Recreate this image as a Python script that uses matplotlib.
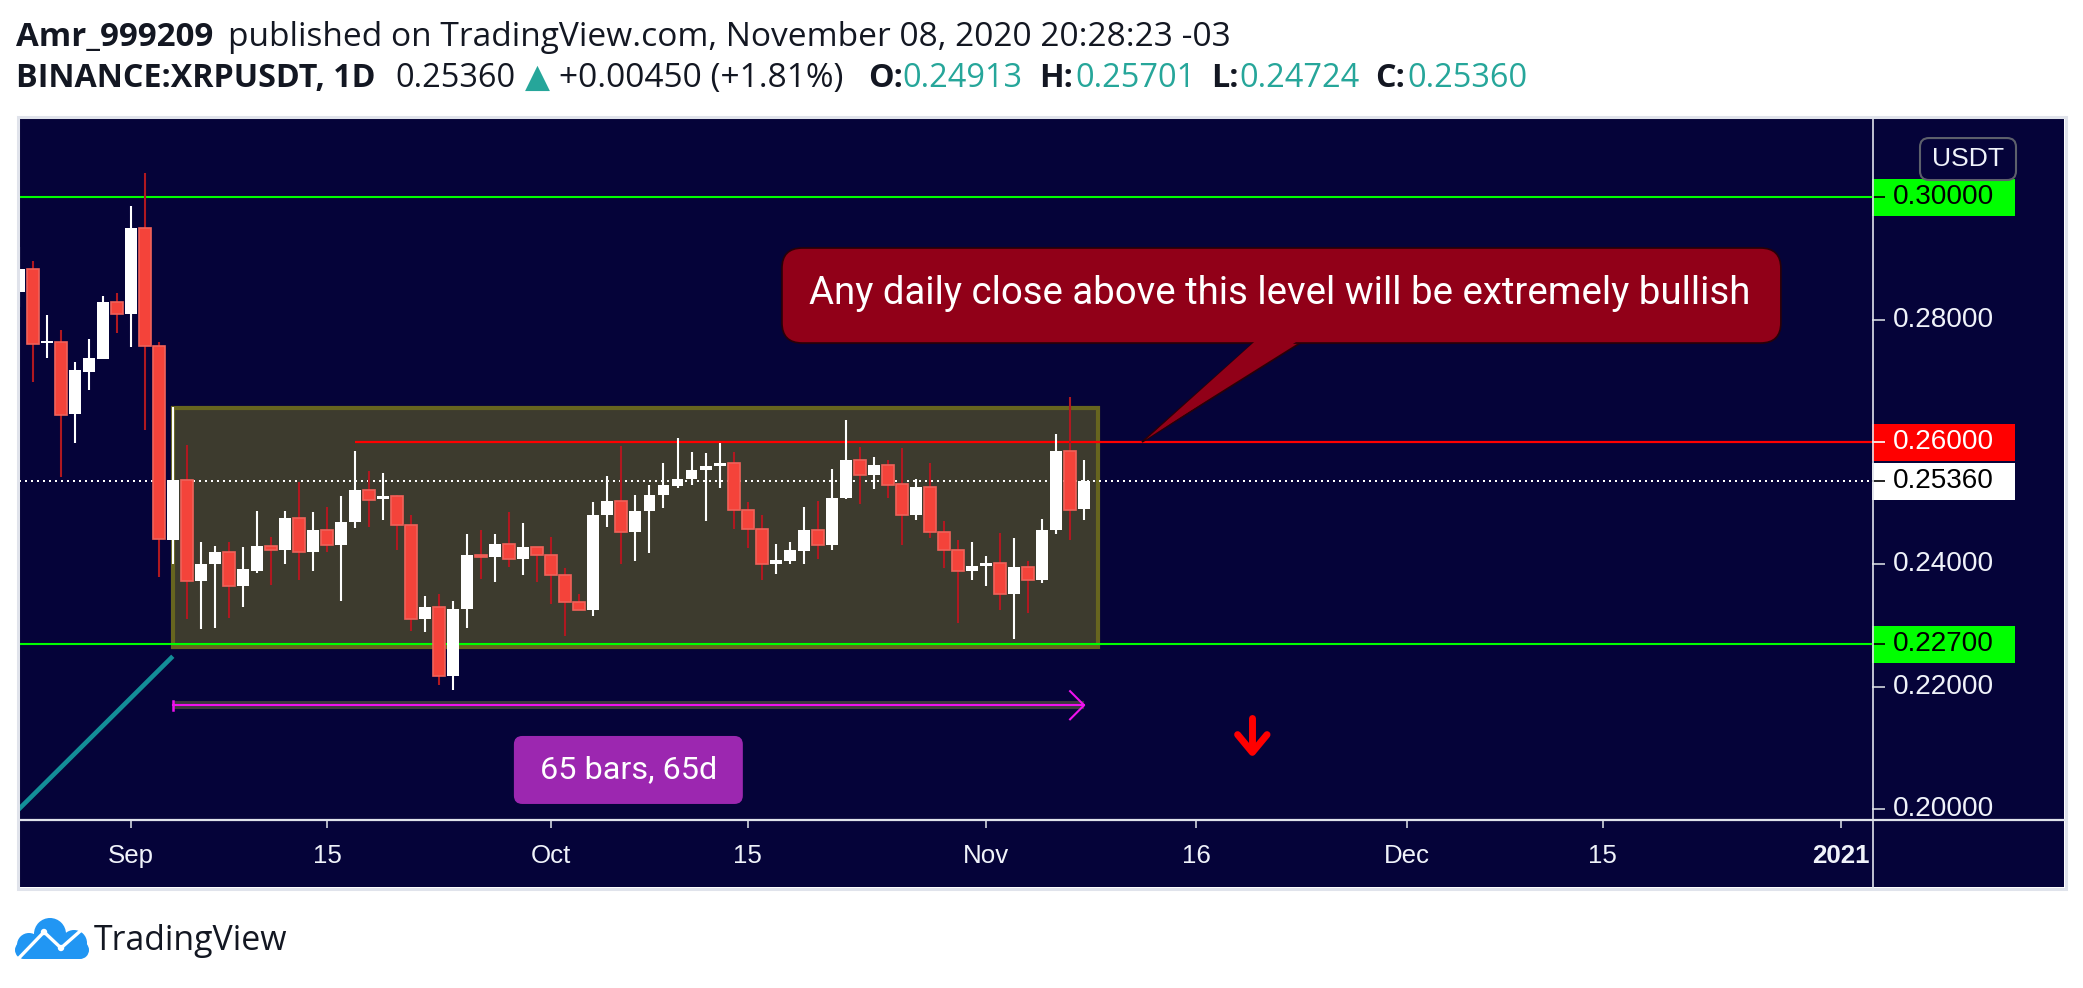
import matplotlib
matplotlib.use("Agg")
import matplotlib.pyplot as plt
import matplotlib.dates as mdates
from matplotlib.patches import Rectangle, FancyBboxPatch, Polygon, Circle
from matplotlib.lines import Line2D
import numpy as np
import pandas as pd

# daily candles BINANCE:XRPUSDT
dates = pd.date_range("2020-08-24", "2020-11-08", freq="D")
opens = [0.2845, 0.2882, 0.2762, 0.2763, 0.2646, 0.2714, 0.2736, 0.2828,
         0.2809, 0.2950, 0.2757, 0.2440, 0.2538, 0.2373, 0.2400, 0.2421, 0.2365, 0.2390,
         0.2430, 0.2424, 0.2476, 0.2421, 0.2457, 0.2432, 0.2469, 0.2522, 0.2507, 0.2512,
         0.2465, 0.2311, 0.2331, 0.2218, 0.2328, 0.2416, 0.2413, 0.2434, 0.2409, 0.2429,
         0.2416, 0.2382, 0.2338, 0.2326, 0.2480, 0.2504, 0.2453, 0.2488, 0.2514, 0.2529,
         0.2540, 0.2554, 0.2561, 0.2565, 0.2489, 0.2458, 0.2400, 0.2406, 0.2422, 0.2457,
         0.2431, 0.2509, 0.2571, 0.2546, 0.2563, 0.2532, 0.2480, 0.2527, 0.2453, 0.2424, 0.2390,
         0.2398, 0.2403, 0.2352, 0.2396, 0.2375, 0.2456, 0.2585, 0.2491]
highs = [0.2918, 0.2895, 0.2807, 0.2783, 0.2730, 0.2768, 0.2838, 0.2843,
         0.2986, 0.3039, 0.2764, 0.2657, 0.2595, 0.2437, 0.2430, 0.2437, 0.2429, 0.2488,
         0.2445, 0.2488, 0.2535, 0.2485, 0.2494, 0.2512, 0.2585, 0.2553, 0.2550, 0.2513,
         0.2481, 0.2348, 0.2352, 0.2341, 0.2449, 0.2457, 0.2449, 0.2486, 0.2467, 0.2429,
         0.2445, 0.2395, 0.2351, 0.2502, 0.2545, 0.2594, 0.2514, 0.2530, 0.2566, 0.2607,
         0.2584, 0.2582, 0.2599, 0.2584, 0.2502, 0.2480, 0.2434, 0.2437, 0.2494, 0.2504,
         0.2556, 0.2636, 0.2592, 0.2576, 0.2571, 0.2590, 0.2540, 0.2566, 0.2471, 0.2440, 0.2436,
         0.2414, 0.2452, 0.2444, 0.2405, 0.2475, 0.2613, 0.2673, 0.2570]
lows = [0.2820, 0.2698, 0.2737, 0.2543, 0.2599, 0.2685, 0.2735, 0.2778,
        0.2755, 0.2620, 0.2379, 0.2400, 0.2311, 0.2294, 0.2296, 0.2312, 0.2330, 0.2386,
        0.2367, 0.2401, 0.2375, 0.2390, 0.2421, 0.2341, 0.2459, 0.2461, 0.2472, 0.2423,
        0.2291, 0.2290, 0.2203, 0.2195, 0.2296, 0.2376, 0.2372, 0.2396, 0.2382, 0.2372,
        0.2336, 0.2283, 0.2325, 0.2315, 0.2462, 0.2401, 0.2406, 0.2419, 0.2493, 0.2525,
        0.2530, 0.2471, 0.2525, 0.2458, 0.2427, 0.2374, 0.2385, 0.2400, 0.2400, 0.2409,
        0.2424, 0.2507, 0.2499, 0.2524, 0.2509, 0.2432, 0.2473, 0.2444, 0.2395, 0.2305, 0.2374,
        0.2364, 0.2326, 0.2278, 0.2321, 0.2370, 0.2450, 0.2440, 0.2472]
closes = [0.2882, 0.2760, 0.2764, 0.2645, 0.2717, 0.2737, 0.2828, 0.2809,
          0.2950, 0.2757, 0.2441, 0.2538, 0.2373, 0.2400, 0.2421, 0.2365, 0.2392, 0.2430,
          0.2424, 0.2476, 0.2421, 0.2457, 0.2432, 0.2470, 0.2522, 0.2506, 0.2512, 0.2464,
          0.2311, 0.2331, 0.2218, 0.2328, 0.2416, 0.2413, 0.2434, 0.2409, 0.2429, 0.2416,
          0.2382, 0.2338, 0.2326, 0.2480, 0.2504, 0.2453, 0.2488, 0.2514, 0.2530, 0.2540,
          0.2554, 0.2561, 0.2565, 0.2489, 0.2458, 0.2400, 0.2407, 0.2423, 0.2457, 0.2431,
          0.2509, 0.2571, 0.2546, 0.2563, 0.2530, 0.2480, 0.2527, 0.2453, 0.2423, 0.2390, 0.2398,
          0.2403, 0.2352, 0.2396, 0.2375, 0.2457, 0.2585, 0.2489, 0.2536]

# levels and drawings
top_level = 0.30
resistance = 0.26
support = 0.227
last_close = 0.2536
range_dates = ["2020-09-04", "2020-11-09"]
range_prices = [0.2265, 0.2656]
measure_dates = ["2020-09-04", "2020-11-08"]
measure_price = 0.2170
trend_dates = ["2020-08-23", "2020-09-04"]
trend_prices = [0.1977, 0.2250]

price_ticks = [0.20, 0.22, 0.24, 0.28]
time_ticks = ["2020-09-01", "2020-09-15", "2020-10-01", "2020-10-15", "2020-11-01",
              "2020-11-16", "2020-12-01", "2020-12-15", "2021-01-01"]
time_labels = ["Sep", "15", "Oct", "15", "Nov", "16", "Dec", "15", "2021"]

W, H = 2083, 988
NAVY = "#050339"
LIGHT = "#e0e3eb"
PX_PRICE = 6121.0   # pixels per 1.0 price
PX_DAY = 14.02      # pixels per day
YLIM = (0.19825, 0.31278)

fig = plt.figure(figsize=(W / 100, H / 100), dpi=100, facecolor="white")
rend = fig.canvas.get_renderer()


def fx(px):
    return px / W


def fy(py):
    return 1 - py / H


def fitted(s, width, **kw):
    t = fig.text(0, 0, s, fontsize=20, **kw)
    w = t.get_window_extent(rend).width
    t.remove()
    return 20 * width / w


def bare(a):
    a.set_xticks([])
    a.set_yticks([])
    for s in a.spines.values():
        s.set_visible(False)


# navy fill behind everything inside the frame
fig.add_artist(Rectangle((fx(19), fy(887)), fx(2064 - 19), (887 - 119) / H,
                         transform=fig.transFigure, fc=NAVY, ec="none", zorder=-5))

# ---------------- main chart ----------------
ax = fig.add_axes([fx(19), fy(820), fx(1872 - 19), (820 - 119) / H])
ax.set_facecolor(NAVY)
bare(ax)
d0 = mdates.date2num(pd.Timestamp("2020-09-01"))
ax.set_xlim(d0 - 7.97, d0 + 124.2)
ax.set_ylim(*YLIM)
asp = PX_DAY / PX_PRICE

x = mdates.date2num(dates)
o = np.array(opens)
c = np.array(closes)
hi = np.array(highs)
lo = np.array(lows)
up = c >= o
body_lo = np.minimum(o, c)
body_h = np.maximum(np.abs(c - o), 0.0003)

# range box
rx = mdates.date2num(pd.to_datetime(range_dates))
ax.add_patch(Rectangle((rx[0], range_prices[0]), rx[1] - rx[0], range_prices[1] - range_prices[0],
                       fc="#3d3b2e", ec="#67651f", lw=3, zorder=1))

# trend line bottom-left
ax.plot(mdates.date2num(pd.to_datetime(trend_dates)), trend_prices, color="#138e98",
        lw=3.3, solid_capstyle="butt", zorder=1.5)

# horizontal levels
ax.axhline(top_level, color="#00ff00", lw=1.5, zorder=2)
ax.axhline(support, color="#00ff00", lw=1.5, zorder=2)
ax.hlines(resistance, mdates.date2num(pd.Timestamp("2020-09-17")), ax.get_xlim()[1],
          color="#ff0000", lw=1.6, zorder=2)
ax.axhline(last_close, color="white", lw=1.44, ls=(0, (1, 2)), zorder=2)

# candles
ax.vlines(x[up], lo[up], hi[up], color="white", lw=1.5, zorder=3)
ax.vlines(x[~up], lo[~up], hi[~up], color="#b01820", lw=1.5, zorder=3)
ax.bar(x[up], body_h[up], bottom=body_lo[up], width=0.85, color="white", lw=0, zorder=4)
ax.bar(x[~up], body_h[~up], bottom=body_lo[~up], width=0.85, color="#f4433a",
       edgecolor="#f0625a", lw=1.2, zorder=4)

# date range measure arrow
mx = mdates.date2num(pd.to_datetime(measure_dates))
ax.plot(mx, [measure_price] * 2, color="#3a3a3e", lw=5.8, solid_capstyle="butt", zorder=4.5)
ax.plot(mx, [measure_price] * 2, color="#ee11ee", lw=1.5, zorder=5)
ax.plot([mx[0]] * 2, [measure_price - 0.0007, measure_price + 0.0007], color="#ee11ee", lw=1.8, zorder=5)
ax.plot([mx[1] - 1, mx[1], mx[1] - 1],
        [measure_price + 0.0023, measure_price, measure_price - 0.0023],
        color="#ee11ee", lw=1.5, zorder=5)
mid = (mx[0] + mx[1]) / 2
ax.add_patch(FancyBboxPatch((mid - 8.17, 0.20087), 16.33, 0.01111,
                            boxstyle="round,pad=0,rounding_size=0.6", mutation_aspect=asp,
                            fc="#9c27b0", ec="none", zorder=6))
ax.text(mid, 0.20647, "65 bars, 65d", color="white", ha="center", va="center",
        family="Roboto", fontsize=fitted("65 bars, 65d", 177, family="Roboto"), zorder=7)

# callout
cfill = "#910018"
ax.add_patch(Polygon([(d0 + 80.3, 0.2766), (d0 + 83.7, 0.2766), (d0 + 72.13, resistance)],
                     closed=True, fc=cfill, ec="#2a0006", lw=1.2, zorder=5))
ax.add_patch(FancyBboxPatch((d0 + 46.45, 0.27618), 71.25, 0.01552,
                            boxstyle="round,pad=0,rounding_size=1.45", mutation_aspect=asp,
                            fc=cfill, ec="#2a0006", lw=1.2, zorder=6))
ax.add_patch(Polygon([(d0 + 80.45, 0.2770), (d0 + 83.55, 0.2770), (d0 + 72.4, resistance + 0.0004)],
                     closed=True, fc=cfill, ec="none", zorder=7))
msg = "Any daily close above this level will be extremely bullish"
ax.text(d0 + 81.98, 0.28425, msg, color="white", ha="center", va="center", family="Roboto",
        fontsize=fitted(msg, 939, family="Roboto"), zorder=8)

# red down arrow
ax.plot([d0 + 80, d0 + 80], [0.2149, 0.2096], color="#ff0000", lw=5, solid_capstyle="round", zorder=6)
ax.plot([d0 + 78.95, d0 + 80, d0 + 81.05], [0.2122, 0.2093, 0.2122], color="#ff0000", lw=5,
        solid_capstyle="round", solid_joinstyle="round", zorder=6)

# ---------------- price axis ----------------
pax = fig.add_axes([fx(1872), fy(820), fx(2064 - 1872), (820 - 119) / H])
pax.set_facecolor(NAVY)
bare(pax)
pax.set_xlim(0, 192)
pax.set_ylim(*YLIM)
lab_size = fitted("0.28000", 101, family="Liberation Sans")
pax.hlines(price_ticks, 0, 13, color="#d1d4dc", lw=1.2)
for p in price_ticks:
    pax.text(21, p, f"{p:.5f}", color="#f0f3fa", va="center", ha="left",
             family="Liberation Sans", fontsize=lab_size)

tag_h = 37 / PX_PRICE
for p, face, tc in [(top_level, "#00ff00", "black"), (resistance, "#ff0000", "white"),
                    (last_close, "white", "black"), (support, "#00ff00", "black")]:
    pax.add_patch(Rectangle((0, p - tag_h / 2), 143, tag_h, fc=face, ec="none", zorder=3))
    pax.text(21, p, f"{p:.5f}", color=tc, va="center", ha="left", family="Liberation Sans",
             fontsize=lab_size, zorder=4)
pax.hlines([top_level, support], 0, 13, color="black", lw=1.2, zorder=3.5)
pax.hlines([resistance], 0, 13, color="white", lw=1.2, zorder=3.5)
pax.hlines([last_close], 0, 13, color="black", lw=1.2, zorder=3.5)

pax.add_patch(FancyBboxPatch((48, 0.30281), 96, 0.00686, boxstyle="round,pad=0,rounding_size=9",
                             mutation_aspect=1 / PX_PRICE, fc=NAVY, ec="#5d606b", lw=1.5, zorder=3))
pax.text(96, 0.30624, "USDT", color="#f0f3fa", ha="center", va="center",
         family="Liberation Sans", fontsize=fitted("USDT", 72, family="Liberation Sans"))

# ---------------- time axis ----------------
tax = fig.add_axes([fx(19), fy(887), fx(1872 - 19), 67 / H])
tax.set_facecolor(NAVY)
for s in tax.spines.values():
    s.set_visible(False)
tax.set_xlim(ax.get_xlim())
tax.set_ylim(0, 1)
tticks = mdates.date2num(pd.to_datetime(time_ticks))
tax.set_xticks(tticks)
tax.set_yticks([])
tax.tick_params(axis="x", direction="in", length=5.5, width=1.2, color="#d1d4dc",
                top=True, bottom=False, labelbottom=False, labeltop=False)
tsize = fitted("Sep", 46, family="Liberation Sans")
for t, lab in zip(tticks, time_labels):
    tax.text(t, 0.358, lab, color="#f0f3fa", ha="center", va="baseline", family="Liberation Sans",
             fontsize=tsize, fontweight="bold" if lab == "2021" else "normal")

# separators and outer frame
fig.add_artist(Line2D([fx(19), fx(2064)], [fy(820), fy(820)], color=LIGHT, lw=1.6, zorder=10))
fig.add_artist(Line2D([fx(1872.5), fx(1872.5)], [fy(119), fy(887)], color=LIGHT, lw=1.2, zorder=10))
fig.add_artist(Rectangle((fx(17.5), fy(888.5)), fx(2065.5 - 17.5), (888.5 - 117.5) / H,
                         transform=fig.transFigure, fill=False, ec=LIGHT, lw=2.2, zorder=10))

# ---------------- header ----------------
HF = ["Open Sans", "DejaVu Sans"]
DARK = "#131722"
TEAL = "#26a69a"
# one size for regular and one for bold text per line, fitted to the widths in the picture
reg1 = fitted("published on TradingView.com, November 08, 2020 20:28:23 -03", 1000, family=HF)
bold1 = fitted("Amr_999209", 197, family=HF, fontweight="bold")
reg2 = fitted("0.25360", 120, family=HF)
chg2 = fitted("+0.00450 (+1.81%)", 284, family=HF)
bold2 = fitted("BINANCE:XRPUSDT, 1D", 360, family=HF, fontweight="bold")
line1 = [(16, "Amr_999209", DARK, "bold"),
         (227.7, "published on TradingView.com, November 08, 2020 20:28:23 -03", DARK, "normal")]
line2 = [(16, "BINANCE:XRPUSDT, 1D", DARK, "bold"), (395, "0.25360", DARK, "normal"),
         (525, "\u25b2", TEAL, "normal"), (559, "+0.00450 (+1.81%)", DARK, "change"),
         (868, "O:", DARK, "bold"), (902, "0.24913", TEAL, "normal"),
         (1039.6, "H:", DARK, "bold"), (1075, "0.25701", TEAL, "normal"),
         (1211.6, "L:", DARK, "bold"), (1239.5, "0.24724", TEAL, "normal"),
         (1375, "C:", DARK, "bold"), (1407.8, "0.25360", TEAL, "normal")]
for yb, parts, rs, bs in [(46, line1, reg1, bold1), (87, line2, reg2, bold2)]:
    for xp, s, col, wt in parts:
        size = bs if wt == "bold" else (chg2 if wt == "change" else rs)
        fig.text(fx(xp), fy(yb), s, color=col, fontweight="bold" if wt == "bold" else "normal",
                 family=HF, fontsize=size, ha="left", va="baseline")

# ---------------- footer logo ----------------
lax = fig.add_axes([fx(14), fy(962), 80 / W, 48 / H])
lax.set_xlim(14, 94)
lax.set_ylim(962, 914)
lax.axis("off")
BLUE = "#2196f3"
for cx, cy, rr in [(50, 934, 16), (29, 945, 12), (74, 943, 13)]:
    lax.add_patch(Circle((cx, cy), rr, fc=BLUE, ec="none"))
lax.add_patch(Rectangle((24, 942), 56, 17, fc=BLUE, ec="none"))
lax.add_patch(Circle((24, 950), 9, fc=BLUE, ec="none"))
lax.add_patch(Circle((80, 950), 9, fc=BLUE, ec="none"))
lax.plot([17, 44, 61, 86], [960, 932, 948, 926], color="white", lw=2.4, solid_joinstyle="round")
for nx, ny in [(44, 932), (61, 948)]:
    lax.add_patch(Circle((nx, ny), 3.2, fc="white", ec="none"))
fig.text(fx(94), fy(950), "TradingView", color=DARK, family=HF, ha="left", va="baseline",
         fontsize=fitted("TradingView", 193, family=HF))

fig.savefig("out.png", dpi=100, facecolor="white")
